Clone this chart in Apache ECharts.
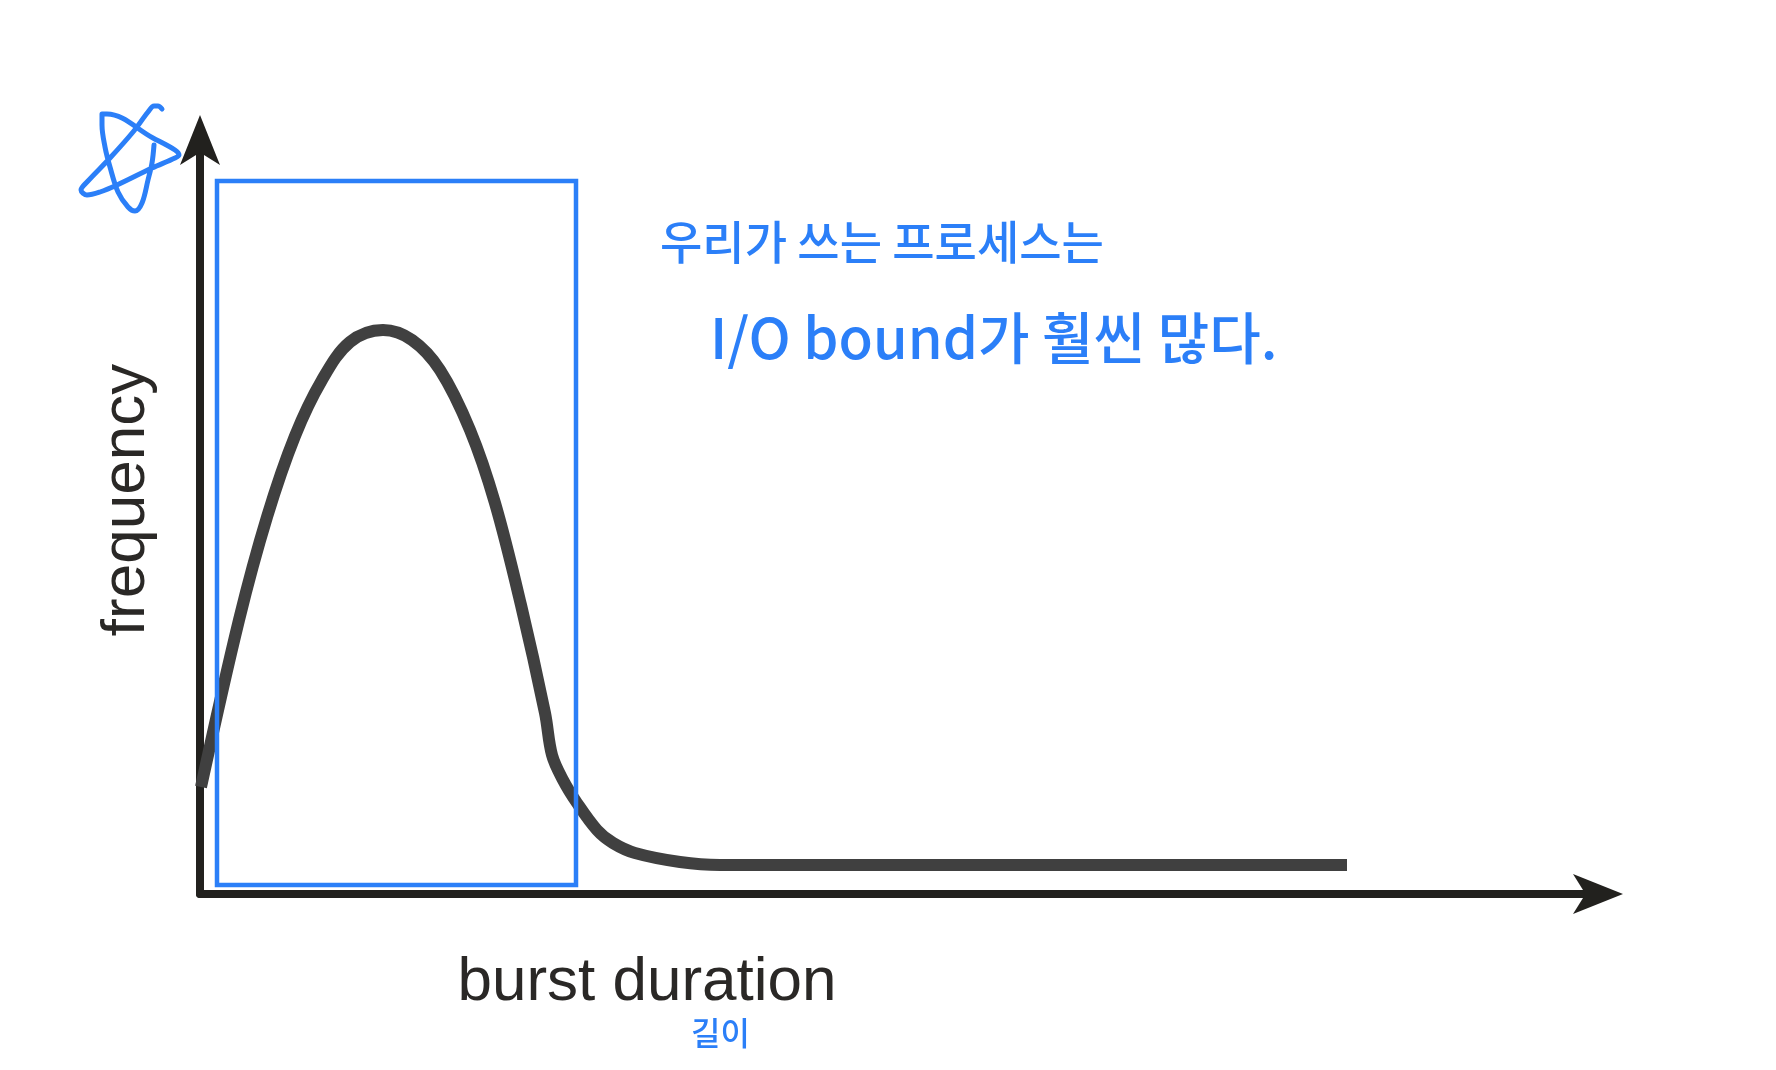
<!DOCTYPE html>
<html>
<head>
<meta charset="utf-8">
<style>html,body{margin:0;padding:0;background:#fff}#c{width:1776px;height:1070px}</style>
<script src="https://cdn.jsdelivr.net/npm/echarts@6/dist/echarts.min.js"></script>
</head>
<body>
<div id="c"></div>
<script>
const xAxisName = 'burst duration';
const yAxisName = 'frequency';
const noteLines = ['우리가 쓰는 프로세스는', 'I/O bound가 훨씬 많다.'];
const noteLength = '길이';

const curveX = [1,39,67,95,122,150,183,212,240,270,295,321,345,352,363,377,397,413,435,480,520,1147];
const curveY = [107,274,377,458,514,552,564,554,524,464,391,289,181,139,114,91,64,51,41,32,29,29];

const boxX = [17,376,376,17,17];
const boxY = [713,713,9,9,713];

const starX = [-38,-42,-46,-52,-67,-90,-113,-119,-113,-100,-83,-48,-25,-21,-25,-47,-93,-98,-98,-95,-90,-82,-72,-65,-58,-52,-48,-46];
const starY = [785,788,788,782,762,736,712,704,699,702,709,726,736,739,744,756,780,780,769,747,727,702,687,683,691,714,731,749];

const zip = (a, b) => a.map((v, i) => [v, b[i]]);
const ink = '#22211e', blue = '#2b7ff8', gray = '#404040', textInk = '#2a2826';
const hand = {fontFamily: '"Noto Sans CJK KR"', fontWeight: 500, fill: blue};

const axisBase = (name, size, extra) => Object.assign({
  type: 'value', min: 0, max: size, name,
  nameLocation: 'middle',
  axisLine: {show: true, onZero: false, symbol: ['none', 'arrow'], symbolSize: [30, 50], symbolOffset: [0, 17],
    lineStyle: {color: ink, width: 8}},
  axisTick: {show: false}, axisLabel: {show: false}, splitLine: {show: false}
}, extra);

echarts.init(document.getElementById('c'), null, {renderer: 'canvas'}).setOption({
  backgroundColor: '#fff',
  animation: false,
  grid: [
    {left: 200, top: 132, width: 1406, height: 762},
    {left: 60, top: 100, width: 140, height: 794, show: false}
  ],
  xAxis: [
    axisBase(xAxisName, 1406, {
      nameGap: 58,
      nameTextStyle: {fontFamily: '"Liberation Sans"', fontSize: 62, color: textInk, padding: [0, 512, 0, 0], verticalAlign: 'top'}
    }),
    {type: 'value', gridIndex: 1, min: -140, max: 0, show: false, splitLine: {show: false}}
  ],
  yAxis: [
    axisBase(yAxisName, 762, {
      nameGap: 42,
      nameTextStyle: {fontFamily: '"Liberation Sans"', fontSize: 62, color: textInk, padding: [0, 0, 0, 26], verticalAlign: 'bottom'}
    }),
    {type: 'value', gridIndex: 1, min: 0, max: 794, show: false, splitLine: {show: false}}
  ],
  series: [
    {type: 'line', name: 'burst', data: zip(curveX, curveY), smooth: 0.35, showSymbol: false, clip: false, z: 2,
      lineStyle: {color: gray, width: 12, cap: 'butt', join: 'round'}},
    {type: 'line', name: 'box', data: zip(boxX, boxY), showSymbol: false, clip: false, z: 3,
      lineStyle: {color: blue, width: 4.5, join: 'miter', cap: 'square'}},
    {type: 'line', name: 'star', xAxisIndex: 1, yAxisIndex: 1, data: zip(starX, starY), smooth: 0.35, showSymbol: false, clip: false, z: 3,
      lineStyle: {color: blue, width: 5, cap: 'round', join: 'round'}}
  ],
  graphic: [
    {type: 'text', x: 660, y: 242, style: Object.assign({}, hand, {text: noteLines[0], fontSize: 46, verticalAlign: 'middle'})},
    {type: 'text', x: 710, y: 338, style: Object.assign({}, hand, {text: noteLines[1], fontSize: 56, verticalAlign: 'middle'})},
    {type: 'text', x: 691, y: 1033, style: Object.assign({}, hand, {text: noteLength, fontSize: 32, verticalAlign: 'middle'})}
  ]
});
</script>
</body>
</html>
